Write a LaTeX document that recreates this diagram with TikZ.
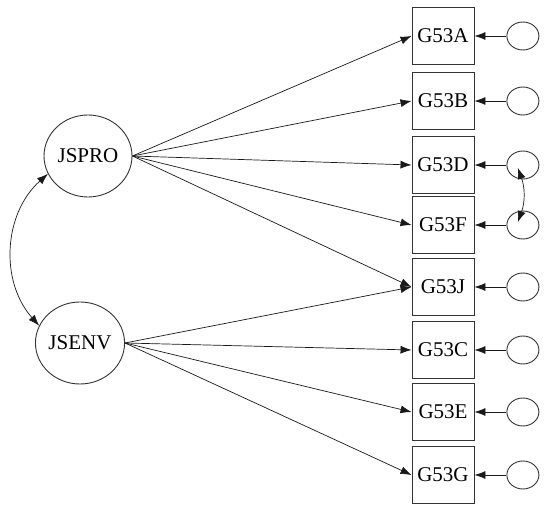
\documentclass[tikz,border=0pt]{standalone}
\usepackage{fontspec}
\setmainfont{Liberation Serif}
\usetikzlibrary{arrows.meta, positioning, shapes.geometric}

\begin{document}
\begin{tikzpicture}[
  x=1pt, y=1pt,
  font=\fontsize{21}{25}\selectfont,
  lat/.style={ellipse, draw=black!80, line width=0.9pt,
              minimum width=88pt, minimum height=82pt, inner sep=0pt},
  ind/.style={rectangle, draw=black!80, line width=0.9pt,
              minimum width=62pt, minimum height=57pt, inner sep=0pt},
  err/.style={ellipse, draw=black!80, line width=0.9pt,
              minimum width=32pt, minimum height=28pt, inner sep=0pt},
  load/.style={-{Latex[length=11pt,width=8pt]}, line width=0.7pt, black!90},
  cov/.style={{Latex[length=11pt,width=8pt]}-{Latex[length=11pt,width=8pt]},
              line width=0.7pt, black!90}
]
\useasboundingbox (0,0) rectangle (550,515);

% latent factors
\node[lat] (jspro) at (88,359) {JSPRO};
\node[lat] (jsenv) at (80,172) {JSENV};

% indicators
\node[ind] (g53a) at (443,479) {G53A};
\node[ind] (g53b) at (443,414) {G53B};
\node[ind] (g53d) at (443,350) {G53D};
\node[ind] (g53f) at (443,290) {G53F};
\node[ind] (g53j) at (443,228) {G53J};
\node[ind] (g53c) at (443,165) {G53C};
\node[ind] (g53e) at (443,103) {G53E};
\node[ind] (g53g) at (443,40) {G53G};

% residuals
\node[err, right=32pt of g53a] (ea) {};
\node[err, right=32pt of g53b] (eb) {};
\node[err, right=32pt of g53d] (ed) {};
\node[err, right=32pt of g53f] (ef) {};
\node[err, right=32pt of g53j] (ej) {};
\node[err, right=32pt of g53c] (ec) {};
\node[err, right=32pt of g53e] (ee) {};
\node[err, right=32pt of g53g] (eg) {};

% loadings
\draw[load] (jspro.east) -- (g53a.west);
\draw[load] (jspro.east) -- (g53b.west);
\draw[load] (jspro.east) -- (g53d.west);
\draw[load] (jspro.east) -- (g53f.west);
\draw[load] (jspro.east) -- (g53j.west);
\draw[load] (jsenv.east) -- (g53j.west);
\draw[load] (jsenv.east) -- (g53c.west);
\draw[load] (jsenv.east) -- (g53e.west);
\draw[load] (jsenv.east) -- (g53g.west);

% residual paths
\draw[load] (ea) -- (g53a);
\draw[load] (eb) -- (g53b);
\draw[load] (ed) -- (g53d);
\draw[load] (ef) -- (g53f);
\draw[load] (ej) -- (g53j);
\draw[load] (ec) -- (g53c);
\draw[load] (ee) -- (g53e);
\draw[load] (eg) -- (g53g);

% covariances
\draw[cov] (jspro.204) to[bend right=45] (jsenv.157);
\draw[cov] ([shift={(-5pt,-3pt)}]ed.center) to[bend left=20]
  ([shift={(-5pt,3pt)}]ef.center);
\end{tikzpicture}
\end{document}
